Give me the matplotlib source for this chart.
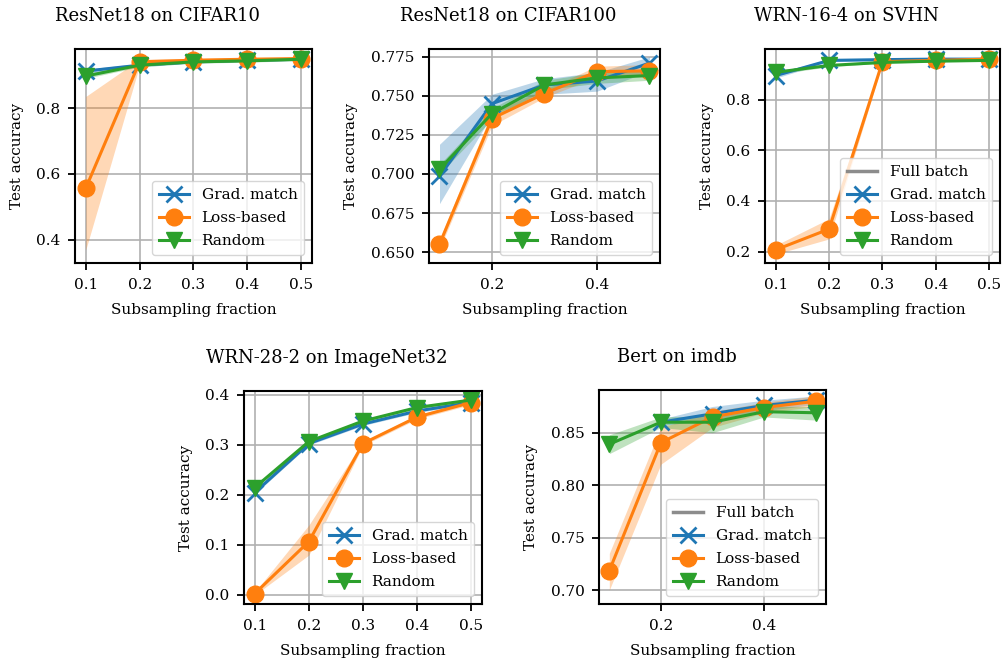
import matplotlib
matplotlib.use("Agg")
import matplotlib.pyplot as plt

plt.rcParams['font.family'] = 'DejaVu Serif'
plt.rcParams['font.size'] = 11

nan = float('nan')

# fraction of the dataset kept
fractions = [0.1, 0.2, 0.3, 0.4, 0.5]

# ResNet18 on CIFAR10
c10_grad = [0.912, 0.930, 0.940, 0.945, 0.948]
c10_loss = [0.557, 0.940, 0.945, 0.948, 0.950]
c10_rand = [0.897, 0.930, 0.940, 0.943, 0.948]
c10_grad_lo = [0.905, 0.925, 0.936, 0.941, 0.944]
c10_grad_hi = [0.918, 0.935, 0.944, 0.949, 0.952]
c10_loss_lo = [0.370, 0.930, 0.940, 0.944, 0.946]
c10_loss_hi = [0.835, 0.948, 0.950, 0.952, 0.954]
c10_rand_lo = [0.890, 0.925, 0.936, 0.939, 0.944]
c10_rand_hi = [0.904, 0.935, 0.944, 0.947, 0.952]

# ResNet18 on CIFAR100
c100_grad = [0.6985, 0.745, 0.757, 0.7595, 0.771]
c100_loss = [0.655, 0.7355, 0.7515, 0.7655, 0.766]
c100_rand = [0.703, 0.7387, 0.757, 0.7615, 0.763]
c100_grad_lo = [0.681, 0.738, 0.751, 0.753, 0.766]
c100_grad_hi = [0.719, 0.751, 0.761, 0.765, 0.775]
c100_loss_lo = [0.652, 0.731, 0.749, 0.762, 0.763]
c100_loss_hi = [0.658, 0.740, 0.754, 0.769, 0.770]
c100_rand_lo = [0.700, 0.735, 0.754, 0.758, 0.760]
c100_rand_hi = [0.706, 0.742, 0.760, 0.765, 0.766]

# WRN-16-4 on SVHN
svhn_grad = [0.895, 0.955, 0.958, 0.960, 0.960]
svhn_loss = [0.207, 0.289, 0.950, 0.955, 0.960]
svhn_rand = [0.908, 0.935, 0.947, 0.952, 0.955]
svhn_grad_lo = [0.885, 0.950, 0.955, 0.957, 0.957]
svhn_grad_hi = [0.905, 0.960, 0.961, 0.963, 0.963]
svhn_loss_lo = [0.190, 0.250, 0.945, 0.951, 0.956]
svhn_loss_hi = [0.225, 0.330, 0.955, 0.959, 0.964]
svhn_rand_lo = [0.900, 0.930, 0.944, 0.949, 0.952]
svhn_rand_hi = [0.916, 0.940, 0.950, 0.955, 0.958]

# WRN-28-2 on ImageNet32
in32_grad = [0.205, 0.303, 0.342, 0.368, 0.385]
in32_loss = [0.003, 0.107, 0.303, 0.356, 0.385]
in32_rand = [0.215, 0.307, 0.348, 0.375, 0.390]
in32_grad_lo = [0.202, 0.300, 0.339, 0.365, 0.382]
in32_grad_hi = [0.208, 0.306, 0.345, 0.371, 0.388]
in32_loss_lo = [0.000, 0.080, 0.299, 0.352, 0.381]
in32_loss_hi = [0.006, 0.140, 0.307, 0.360, 0.389]
in32_rand_lo = [0.212, 0.304, 0.345, 0.372, 0.387]
in32_rand_hi = [0.218, 0.310, 0.351, 0.378, 0.393]

# Bert on imdb (no grad. match run at 0.1)
imdb_grad = [nan, 0.860, 0.868, 0.876, 0.881]
imdb_loss = [0.7184, 0.8405, 0.865, 0.874, 0.880]
imdb_rand = [0.839, 0.860, 0.860, 0.870, 0.869]
imdb_grad_lo = [nan, 0.857, 0.862, 0.871, 0.877]
imdb_grad_hi = [nan, 0.863, 0.875, 0.881, 0.885]
imdb_loss_lo = [0.700, 0.820, 0.855, 0.869, 0.875]
imdb_loss_hi = [0.735, 0.855, 0.870, 0.879, 0.885]
imdb_rand_lo = [0.830, 0.855, 0.850, 0.865, 0.862]
imdb_rand_hi = [0.848, 0.865, 0.866, 0.875, 0.875]

panels = [
    ("ResNet18 on CIFAR10", c10_grad, c10_loss, c10_rand,
     c10_grad_lo, c10_grad_hi, c10_loss_lo, c10_loss_hi, c10_rand_lo, c10_rand_hi),
    ("ResNet18 on CIFAR100", c100_grad, c100_loss, c100_rand,
     c100_grad_lo, c100_grad_hi, c100_loss_lo, c100_loss_hi, c100_rand_lo, c100_rand_hi),
    ("WRN-16-4 on SVHN", svhn_grad, svhn_loss, svhn_rand,
     svhn_grad_lo, svhn_grad_hi, svhn_loss_lo, svhn_loss_hi, svhn_rand_lo, svhn_rand_hi),
    ("WRN-28-2 on ImageNet32", in32_grad, in32_loss, in32_rand,
     in32_grad_lo, in32_grad_hi, in32_loss_lo, in32_loss_hi, in32_rand_lo, in32_rand_hi),
    ("Bert on imdb", imdb_grad, imdb_loss, imdb_rand,
     imdb_grad_lo, imdb_grad_hi, imdb_loss_lo, imdb_loss_hi, imdb_rand_lo, imdb_rand_hi),
]

xticks = [[0.1, 0.2, 0.3, 0.4, 0.5], [0.2, 0.4], [0.1, 0.2, 0.3, 0.4, 0.5],
          [0.1, 0.2, 0.3, 0.4, 0.5], [0.2, 0.4]]
yticks = [[0.4, 0.6, 0.8], [0.650, 0.675, 0.700, 0.725, 0.750, 0.775],
          [0.2, 0.4, 0.6, 0.8], [0.0, 0.1, 0.2, 0.3, 0.4], [0.70, 0.75, 0.80, 0.85]]
ylims = [(0.33, 0.979), (0.643, 0.780), (0.155, 1.0), (-0.018, 0.408), (0.6867, 0.8907)]
full_batch = [False, False, True, False, True]

# axes boxes in pixels: left, top, right, bottom
W, H = 1004, 663
boxes = [(75, 49, 312, 263), (429, 49, 660, 263), (765, 49, 1000, 263),
         (244, 391, 482, 604), (599, 390, 826, 604)]

fig = plt.figure(figsize=(W / 100, H / 100), dpi=100)

blue, orange, green = '#1f77b4', '#ff7f0e', '#2ca02c'

for i, p in enumerate(panels):
    title, g, l, r, glo, ghi, llo, lhi, rlo, rhi = p
    x0, y0, x1, y1 = boxes[i]
    ax = fig.add_axes([x0 / W, 1 - y1 / H, (x1 - x0) / W, (y1 - y0) / H])
    if full_batch[i]:
        ax.plot([], [], color='gray', lw=2.5, alpha=0.9, label='Full batch')
    ax.fill_between(fractions, glo, ghi, color=blue, alpha=0.3, lw=0)
    ax.fill_between(fractions, llo, lhi, color=orange, alpha=0.3, lw=0)
    ax.fill_between(fractions, rlo, rhi, color=green, alpha=0.3, lw=0)
    ax.plot(fractions, g, color=blue, marker='x', ms=12, mew=2, lw=2.2, label='Grad. match')
    ax.plot(fractions, l, color=orange, marker='o', ms=12, lw=2.2, label='Loss-based')
    ax.plot(fractions, r, color=green, marker='v', ms=12, lw=2.2, label='Random')
    ax.set_xticks(xticks[i])
    ax.set_yticks(yticks[i])
    if i == 1:
        ax.set_yticklabels(['%.3f' % v for v in yticks[i]])
    if i == 4:
        ax.set_yticklabels(['%.2f' % v for v in yticks[i]])
    ax.set_xlim(0.08, 0.52)
    ax.set_ylim(*ylims[i])
    ax.grid(True, color='#b0b0b0', lw=1.2)
    ax.set_axisbelow(True)
    for s in ax.spines.values():
        s.set_linewidth(1.5)
    # title sits over the whole panel incl. the y label, so it is shifted left
    t = ax.set_title(title, fontsize=13, pad=20)
    t.set_x(0.5 - 36 / (x1 - x0))
    ax.set_xlabel('Subsampling fraction', fontsize=11, labelpad=8)
    ax.set_ylabel('Test accuracy', fontsize=11, labelpad=9)
    ax.tick_params(labelsize=11, length=5, width=1.3, pad=5.5)
    ax.legend(loc='lower right', fontsize=11, handlelength=2, borderpad=0.45,
              labelspacing=0.6, handletextpad=0.8, borderaxespad=0.5)

fig.savefig('out.png', dpi=100)
